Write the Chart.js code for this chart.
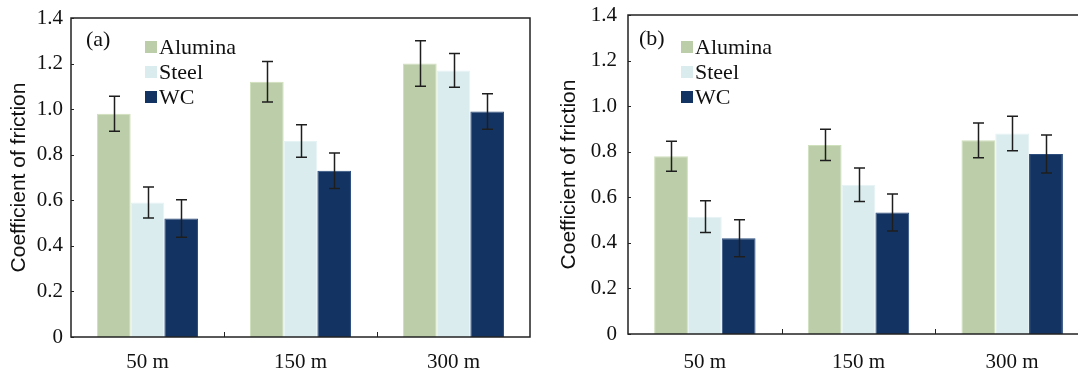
<!DOCTYPE html>
<html>
<head>
<meta charset="UTF-8">
<title>Coefficient of friction</title>
<script src="https://cdn.jsdelivr.net/npm/chart.js"></script>
<style>
  html, body { margin: 0; background: #fff; overflow: hidden; width: 1078px; height: 372px; }
  .panel { position: absolute; top: 0; }
  #wrapA { left: 0; }
  #wrapB { left: 545px; }
</style>
</head>
<body>
<div class="panel" id="wrapA"><canvas id="chartA" width="545" height="372"></canvas></div>
<div class="panel" id="wrapB"><canvas id="chartB" width="560" height="372"></canvas></div>
<script>
  // data
  const distances = ["50 m", "150 m", "300 m"];
  const seriesNames = ["Alumina", "Steel", "WC"];

  // panel (a)
  const aAlumina = [0.98, 1.12, 1.20];
  const aAluminaErr = [0.077, 0.089, 0.10];
  const aSteel = [0.59, 0.86, 1.17];
  const aSteelErr = [0.068, 0.071, 0.074];
  const aWC = [0.52, 0.73, 0.99];
  const aWCErr = [0.082, 0.078, 0.078];

  // panel (b)
  const bAlumina = [0.78, 0.83, 0.85];
  const bAluminaErr = [0.066, 0.069, 0.076];
  const bSteel = [0.515, 0.655, 0.88];
  const bSteelErr = [0.07, 0.073, 0.076];
  const bWC = [0.42, 0.533, 0.79];
  const bWCErr = [0.081, 0.081, 0.083];

  const yMin = 0, yMax = 1.4, yStep = 0.2;

  const fills = ["#bccea9", "#dbecee", "#133463"];
  const edges = ["#cfe0bc", "#e6f3f4", "#2c4d7e"];
  const serif = "'Liberation Serif', 'Times New Roman', serif";
  const sans = "'Liberation Sans', Arial, sans-serif";

  // error bars, frame, inward ticks, legend and panel tag
  const decor = {
    id: "decor",
    afterDatasetsDraw(chart) {
      const ctx = chart.ctx, y = chart.scales.y;
      ctx.save();
      ctx.strokeStyle = "#1e1e1e";
      ctx.lineWidth = 1.5;
      chart.data.datasets.forEach((ds, i) => {
        chart.getDatasetMeta(i).data.forEach((bar, j) => {
          const top = y.getPixelForValue(ds.data[j] + ds.err[j]);
          const bot = y.getPixelForValue(ds.data[j] - ds.err[j]);
          const x = Math.round(bar.x) + 0.5;
          ctx.beginPath();
          ctx.moveTo(x, top); ctx.lineTo(x, bot);
          ctx.moveTo(x - 5.5, top); ctx.lineTo(x + 5.5, top);
          ctx.moveTo(x - 5.5, bot); ctx.lineTo(x + 5.5, bot);
          ctx.stroke();
        });
      });
      ctx.restore();
    },
    afterDraw(chart, args, o) {
      const ctx = chart.ctx, a = chart.chartArea;
      const xs = chart.scales.x, ys = chart.scales.y;
      ctx.save();
      ctx.strokeStyle = "#222";
      ctx.lineWidth = 1.5;
      ctx.strokeRect(a.left, a.top, a.right - a.left, a.bottom - a.top);
      ctx.lineWidth = 1;
      ctx.beginPath();
      ys.ticks.forEach(t => {
        const py = Math.round(ys.getPixelForValue(t.value)) + 0.5;
        ctx.moveTo(a.left, py); ctx.lineTo(a.left + 3, py);
      });
      for (let i = 0; i < distances.length - 1; i++) {
        const px = Math.round((xs.getPixelForValue(i) + xs.getPixelForValue(i + 1)) / 2) + 0.5;
        ctx.moveTo(px, a.bottom); ctx.lineTo(px, a.bottom - 5);
      }
      ctx.stroke();

      // panel tag
      ctx.fillStyle = "#111";
      ctx.textBaseline = "middle";
      ctx.font = "22px " + serif;
      ctx.fillText(o.tag, a.left + o.tagX, a.top + o.tagY);

      // legend
      chart.data.datasets.forEach((ds, i) => {
        const cy = a.top + o.legY + i * o.legGap;
        ctx.fillStyle = ds.backgroundColor;
        ctx.fillRect(a.left + o.legX, cy - 6, 12, 12);
        ctx.fillStyle = "#111";
        ctx.fillText(ds.label, a.left + o.legX + 14, cy + 1);
      });
      ctx.restore();
    }
  };

  function makeChart(id, values, errs, box, tag) {
    return new Chart(document.getElementById(id), {
      type: "bar",
      data: {
        labels: distances,
        datasets: seriesNames.map((name, i) => ({
          label: name,
          data: values[i],
          err: errs[i],
          backgroundColor: fills[i],
          borderColor: edges[i],
          borderWidth: 1,
          barPercentage: 1,
          categoryPercentage: 0.66
        }))
      },
      options: {
        responsive: false,
        animation: false,
        layout: { padding: { top: box.top, right: box.right, bottom: 0, left: 0 } },
        plugins: { legend: { display: false }, tooltip: { enabled: false }, decor: tag },
        scales: {
          x: {
            grid: { display: false },
            border: { display: false },
            ticks: { color: "#111", font: { family: serif, size: 21 }, padding: box.xPad },
            afterFit: s => { s.height = box.xHeight; }
          },
          y: {
            min: yMin, max: yMax,
            grid: { display: false, drawTicks: false },
            border: { display: false },
            ticks: {
              stepSize: yStep, color: "#111", padding: box.yPad,
              font: { family: serif, size: 21 },
              callback: v => v === 0 ? "0" : v.toFixed(1)
            },
            title: {
              display: true, text: "Coefficient of friction", color: "#111",
              font: { family: sans, size: 21 }, padding: { top: box.titlePad, bottom: 0 }
            },
            afterFit: s => { s.width = box.yWidth; s.paddingTop = 0; s.paddingBottom = 0; }
          }
        }
      },
      plugins: [decor]
    });
  }

  makeChart("chartA",
    [aAlumina, aSteel, aWC], [aAluminaErr, aSteelErr, aWCErr],
    { top: 18, right: 15, xHeight: 35, xPad: 5, yWidth: 71, yPad: 8, titlePad: 7 },
    { tag: "(a)", tagX: 15, tagY: 22, legX: 74, legY: 29, legGap: 25 });

  makeChart("chartB",
    [bAlumina, bSteel, bWC], [bAluminaErr, bSteelErr, bWCErr],
    { top: 15, right: 16, xHeight: 38, xPad: 8, yWidth: 83, yPad: 11, titlePad: 12 },
    { tag: "(b)", tagX: 11, tagY: 24, legX: 53, legY: 32, legGap: 25 });
</script>
</body>
</html>
